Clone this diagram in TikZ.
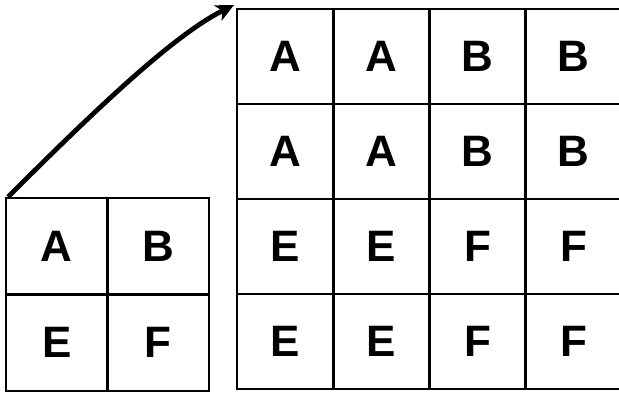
\documentclass[tikz,border=0pt]{standalone}
\usepackage{fontspec}
\setmainfont{Liberation Sans}
\usetikzlibrary{arrows.meta}
\begin{document}
\begin{tikzpicture}[x=1pt,y=1pt,
  cell/.style={draw=black, line width=2.8pt, inner sep=0pt, outer sep=0pt, anchor=north west,
    font=\fontsize{44}{44}\selectfont\bfseries},
  lcell/.style={cell, minimum width=101.5pt, minimum height=96.5pt},
  rcell/.style={cell, minimum width=96.25pt, minimum height=95pt},
  link/.style={line width=4.8pt, -{Stealth[length=18pt,width=17pt,inset=5pt]}}]
\useasboundingbox (0,0) rectangle (619,393);
\clip (0,0) rectangle (619,393);
\fill[white] (0,0) rectangle (619,393);
% left grid: x 6..209, y 198..391 (image coords)
\node[lcell] (l11) at (6,393-198) {A};
\node[lcell] (l12) at (107.5,393-198) {B};
\node[lcell] (l21) at (6,393-294.5) {E};
\node[lcell] (l22) at (107.5,393-294.5) {F};
% right grid: x 237..622, y 9..389
\node[rcell] (r11) at (237,393-9) {A};
\node[rcell] (r12) at (333.25,393-9) {A};
\node[rcell] (r13) at (429.5,393-9) {B};
\node[rcell] (r14) at (525.75,393-9) {B};
\node[rcell] (r21) at (237,393-104) {A};
\node[rcell] (r22) at (333.25,393-104) {A};
\node[rcell] (r23) at (429.5,393-104) {B};
\node[rcell] (r24) at (525.75,393-104) {B};
\node[rcell] (r31) at (237,393-199) {E};
\node[rcell] (r32) at (333.25,393-199) {E};
\node[rcell] (r33) at (429.5,393-199) {F};
\node[rcell] (r34) at (525.75,393-199) {F};
\node[rcell] (r41) at (237,393-294) {E};
\node[rcell] (r42) at (333.25,393-294) {E};
\node[rcell] (r43) at (429.5,393-294) {F};
\node[rcell] (r44) at (525.75,393-294) {F};
\coordinate (tip) at (234,393-5);
\coordinate (start) at ([shift={(2,1)}]l11.north west);
\draw[link] (start) .. controls +(90,90) and +(-60,-30) .. (tip);
\end{tikzpicture}
\end{document}
